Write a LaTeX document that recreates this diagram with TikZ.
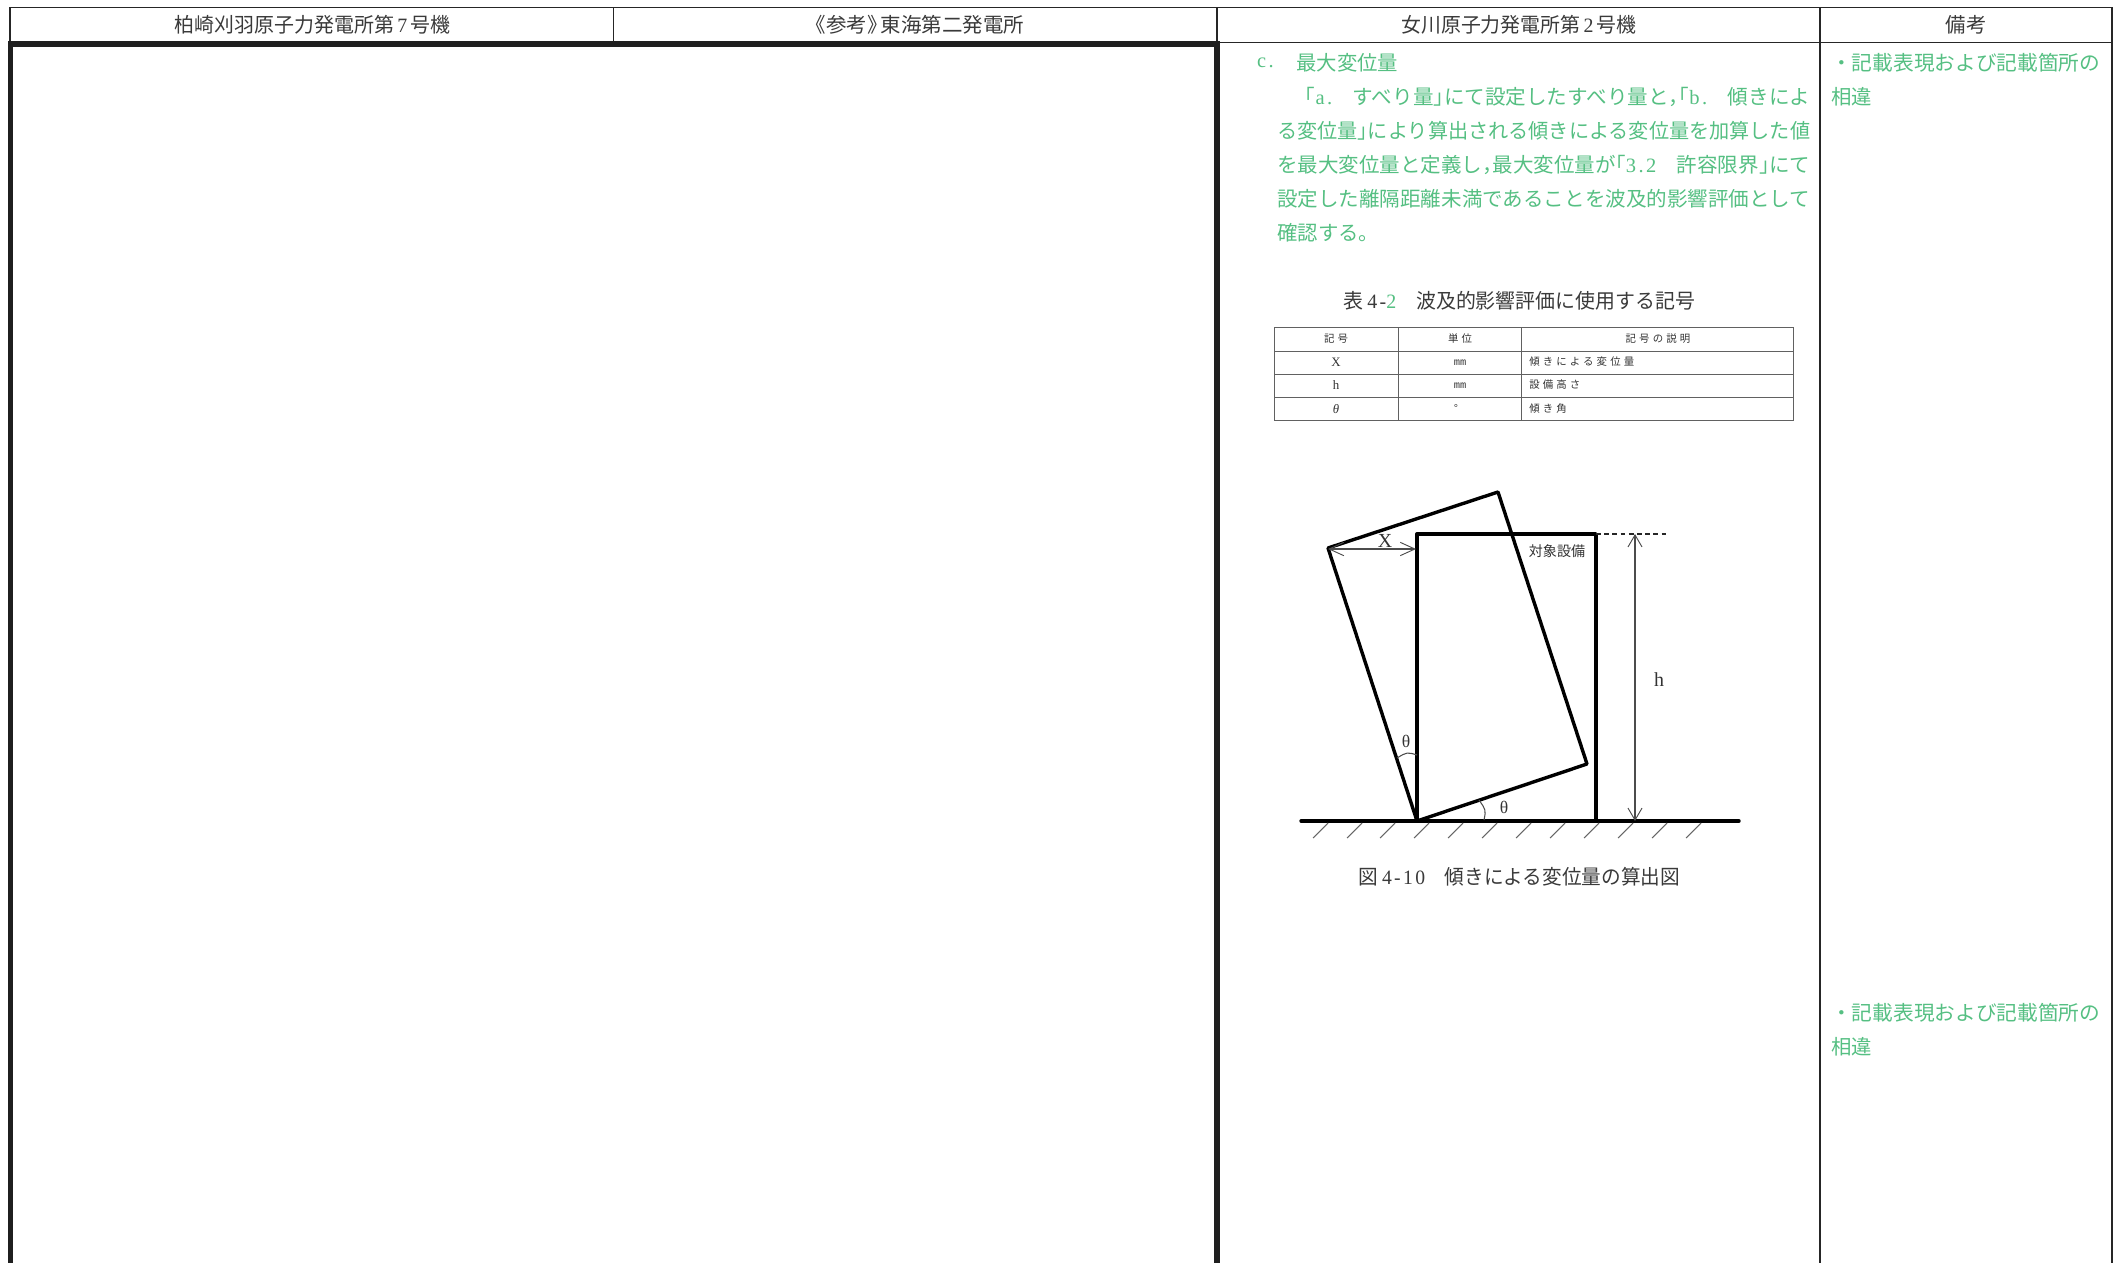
\documentclass[tikz,border=0pt]{standalone}
\usepackage{graphicx}
\usepackage{fontspec}
\setmainfont{Liberation Serif}
\newfontfamily\jpfont{Noto Sans CJK JP}
\newfontfamily\jphalf[RawFeature=+halt]{Noto Sans CJK JP}
\newfontfamily\jpwide[LetterSpace=30]{Noto Sans CJK JP}
\newfontfamily\latfont[LetterSpace=12]{Liberation Serif}
\newfontfamily\monofont{Liberation Mono}
\usetikzlibrary{arrows.meta}
\definecolor{hdrgray}{HTML}{3A3A3A}
\definecolor{notegreen}{HTML}{55BF82}
\newcommand{\hb}[1]{{\jphalf #1}}
\newcommand{\lt}[1]{{\latfont #1}}
\newcommand{\fitline}[2]{\resizebox{#1}{\height}{#2}}
\tikzset{
	gridline/.style={line width=1.2pt, color=black!85},
	heavybox/.style={line width=4.6pt, color=black!88},
	hdrtext/.style={color=hdrgray, font=\fontsize{17.4}{17.4}\selectfont\jpfont, inner sep=0pt},
	notetext/.style={color=notegreen, anchor=west, font=\fontsize{17.4}{17.4}\selectfont\jpfont, inner sep=0pt},
	tabtext/.style={color=black!80, font=\fontsize{8.9}{8.9}\selectfont\jpwide, inner sep=0pt},
	tabline/.style={line width=0.8pt, color=black!62},
	bodyline/.style={line width=2.9pt, color=black, line cap=round, line join=round},
	thinline/.style={line width=0.9pt, color=black!70},
	hatchline/.style={line width=0.9pt, color=black!60},
}

\begin{document}
\begin{tikzpicture}[x=0.03cm, y=-0.03cm]
	%%%%% START %%%%%
	\useasboundingbox (0, 0) rectangle (2121, 1263);
	
	% table grid
	\draw[gridline] (10, 7.5) -- (2112, 7.5);
	\draw[gridline] (1217, 42.5) -- (2112, 42.5);
	\draw[gridline] (10, 7.5) -- (10, 42.5);
	\draw[gridline] (613.5, 7.5) -- (613.5, 42.5);
	\draw[gridline] (1217, 7.5) -- (1217, 1263);
	\draw[gridline] (1820, 7.5) -- (1820, 1263);
	\draw[gridline] (2112, 7.5) -- (2112, 1263);
	\draw[heavybox] (10.5, 1264) -- (10.5, 44) -- (1217, 44) -- (1217, 1264);
	
	% header
	\node[hdrtext] (headA) at (312.5, 25) {\fitline{8.28cm}{柏崎刈羽原子力発電所第\,{\latfont 7}\,号機}};
	\node[hdrtext] (headB) at (920, 25) {\fitline{6.25cm}{\hb{《}参考\hb{》}\,東海第二発電所}};
	\node[hdrtext] (headC) at (1519, 25) {\fitline{7.06cm}{女川原子力発電所第\,{\latfont 2}\,号機}};
	\node[hdrtext] (headD) at (1966, 25) {備考};
	
	% green text
	\node[notetext] (noteC) at (1257, 63) {\lt{c.}};
	\node[notetext] (noteTitle) at (1296, 63) {最大変位量};
	\node[notetext] (lineA) at (1305, 97) {\fitline{15.15cm}{\hb{「}\lt{a.}　すべり量\hb{」}にて設定したすべり量と\hb{，「}\lt{b.}　傾きによ}};
	\node[notetext] (lineB) at (1277, 131) {\fitline{15.99cm}{る変位量\hb{」}により算出される傾きによる変位量を加算した値}};
	\node[notetext] (lineC) at (1277, 165) {\fitline{15.99cm}{を最大変位量と定義し\hb{，}最大変位量が\hb{「}\lt{3.2}　許容限界\hb{」}にて}};
	\node[notetext] (lineD) at (1277, 199) {\fitline{15.99cm}{設定した離隔距離未満であることを波及的影響評価として}};
	\node[notetext] (lineE) at (1277, 233) {確認する。};
	
	\node[notetext] (remarkA) at (1831, 63) {\fitline{8.07cm}{・記載表現および記載箇所の}};
	\node[notetext] (remarkB) at (1831, 97) {相違};
	\node[notetext] (remarkC) at (1831, 1013) {\fitline{8.07cm}{・記載表現および記載箇所の}};
	\node[notetext] (remarkD) at (1831, 1047) {相違};
	
	% symbol table
	\node[hdrtext] (tabTitle) at (1519, 301) {\fitline{10.56cm}{表 {\latfont 4-}{\color{notegreen}\latfont 2}　波及的影響評価に使用する記号}};
	
	\draw[tabline] (1274, 327) rectangle (1793.5, 420);
	\draw[tabline] (1274, 351) -- (1793.5, 351);
	\draw[tabline] (1274, 374) -- (1793.5, 374);
	\draw[tabline] (1274, 397) -- (1793.5, 397);
	\draw[tabline] (1398.5, 327) -- (1398.5, 420);
	\draw[tabline] (1521.5, 327) -- (1521.5, 420);
	
	\node[tabtext] (symHead) at (1336, 339) {記号};
	\node[tabtext] (unitHead) at (1460, 339) {単位};
	\node[tabtext] (descHead) at (1658, 339) {記号の説明};
	\node[tabtext] (symX) at (1336, 362) {\fontsize{11}{11}\selectfont\latfont X};
	\node[tabtext] (unitX) at (1460, 363) {\monofont mm};
	\node[tabtext, anchor=west] (descX) at (1529, 362) {傾きによる変位量};
	\node[tabtext] (symH) at (1336, 385) {\fontsize{11}{11}\selectfont\latfont h};
	\node[tabtext] (unitH) at (1460, 386) {\monofont mm};
	\node[tabtext, anchor=west] (descH) at (1529, 385) {設備高さ};
	\node[tabtext] (symT) at (1336, 409) {\fontsize{11}{11}\selectfont\rmfamily\itshape θ};
	\node[tabtext] (unitT) at (1456, 408) {\monofont °};
	\node[tabtext, anchor=west] (descT) at (1529, 409) {傾き角};
	
	% tilt figure
	\coordinate (base) at (1417, 821);
	\coordinate (tiltL) at (1328, 548);
	\coordinate (tiltT) at (1498, 492);
	\coordinate (tiltR) at (1587, 764);
	\coordinate (boxTL) at (1417, 534);
	\coordinate (boxTR) at (1596, 534);
	\coordinate (boxBR) at (1596, 821);
	\coordinate (dashEnd) at (1669, 534);
	\coordinate (hTop) at (1635, 534);
	\coordinate (hBot) at (1635, 821);
	\coordinate (xL) at (1328, 549);
	\coordinate (xR) at (1416, 549);
	\coordinate (groundL) at (1301, 821);
	\coordinate (groundR) at (1739, 821);
	
	\draw[bodyline] (base) -- (tiltL) -- (tiltT) -- (tiltR) -- cycle;
	\draw[bodyline] (base) -- (boxTL) -- (boxTR) -- (boxBR);
	\draw[bodyline] (groundL) -- (groundR);
	\draw[line width=1.1pt, dash pattern=on 4pt off 3pt, color=black!85] (boxTR) -- (dashEnd);
	\draw[thinline, {Straight Barb[length=3.6mm, width=4.2mm, line width=0.8pt]}-{Straight Barb[length=3.6mm, width=4.2mm, line width=0.8pt]}] (hTop) -- (hBot);
	\draw[thinline, {Straight Barb[length=4.4mm, width=4mm, line width=0.8pt]}-{Straight Barb[length=4.4mm, width=4mm, line width=0.8pt]}] (xL) -- (xR);
	
	\draw[thinline] (1484, 820) .. controls (1486, 810) .. (1479, 800);
	\draw[thinline] (1417, 755) .. controls (1407, 752) .. (1397, 758);
	
	\draw[hatchline] (1313, 838) -- (1328, 823);
	\draw[hatchline] (1347, 838) -- (1362, 823);
	\draw[hatchline] (1380, 838) -- (1395, 823);
	\draw[hatchline] (1414, 838) -- (1429, 823);
	\draw[hatchline] (1448, 838) -- (1463, 823);
	\draw[hatchline] (1482, 838) -- (1497, 823);
	\draw[hatchline] (1516, 838) -- (1531, 823);
	\draw[hatchline] (1550, 838) -- (1565, 823);
	\draw[hatchline] (1584, 838) -- (1599, 823);
	\draw[hatchline] (1618, 838) -- (1633, 823);
	\draw[hatchline] (1652, 838) -- (1667, 823);
	\draw[hatchline] (1686, 838) -- (1701, 823);
	
	\node[tabtext, font=\fontsize{17}{17}\selectfont\latfont] (labelX) at (1385, 541) {X};
	\node[tabtext, font=\fontsize{17}{17}\selectfont\latfont] (labelH) at (1659, 680) {h};
	\node[tabtext, font=\fontsize{12}{12}\selectfont\jpfont] (labelBox) at (1557, 551) {対象設備};
	\node[tabtext, font=\fontsize{15}{15}\selectfont\rmfamily] (thetaA) at (1406, 741) {θ};
	\node[tabtext, font=\fontsize{15}{15}\selectfont\rmfamily] (thetaB) at (1504, 807) {θ};
	
	\node[hdrtext] (figTitle) at (1519, 877) {\fitline{9.66cm}{図 {\latfont 4-10}　傾きによる変位量の算出図}};
	
	%%%%% END %%%%%
\end{tikzpicture}
\end{document}
